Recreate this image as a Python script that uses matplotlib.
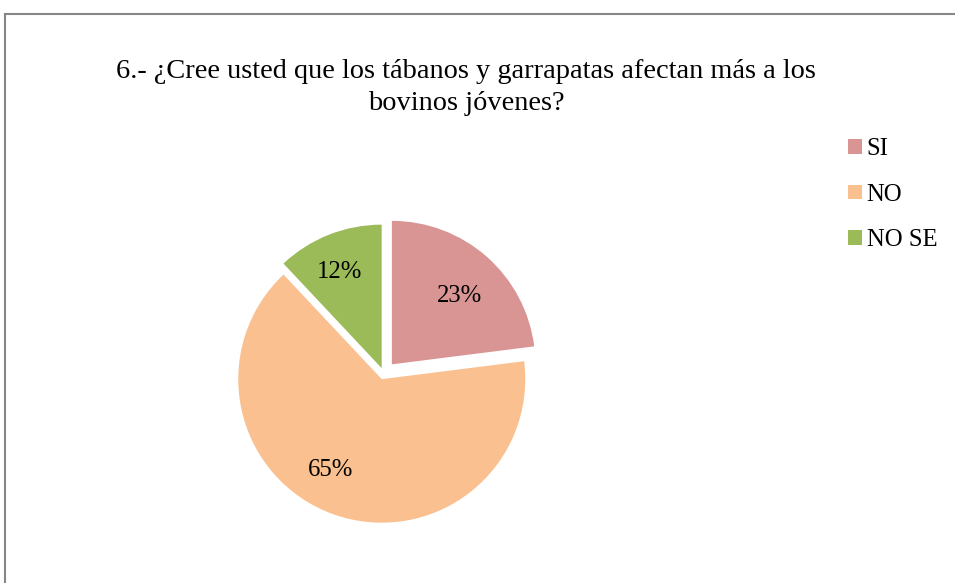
import matplotlib
matplotlib.use("Agg")
import numpy as np
import matplotlib.pyplot as plt
from matplotlib.patches import Rectangle

categories = ["SI", "NO", "NO SE"]
values = [23, 65, 12]
colors = ["#D99594", "#FAC090", "#9BBB59"]
explode = [0.085, 0.042, 0.04]
title = "6.- ¿Cree usted que los tábanos y garrapatas afectan más a los\nbovinos jóvenes?"

# label placement (angle in degrees, distance in radii) relative to each wedge centre
label_angles = [45.5, -119.4, 114.0]
label_dists = [0.67, 0.73, 0.73]

plt.rcParams["font.family"] = ["Liberation Serif", "DejaVu Serif"]
W, H = 955, 583
fig = plt.figure(figsize=(W / 100, H / 100), dpi=100)

# border
fig.patches.append(Rectangle((5 / W, -0.1), 1.2, 1.1 - 14 / H, transform=fig.transFigure,
                             fill=False, edgecolor="#868686", linewidth=1.5))

cx, cy, r = 383.8, H - 373.5, 143.5
half = 1.25 * r
ax = fig.add_axes([(cx - half) / W, (cy - half) / H, 2 * half / W, 2 * half / H])
wedges, texts, autotexts = ax.pie(values, colors=colors, explode=explode, startangle=90,
                                  counterclock=False, autopct="%1.0f%%", pctdistance=0.71,
                                  textprops=dict(fontsize=17.8, color="black"))
for w, t, a, d in zip(wedges, autotexts, label_angles, label_dists):
    x0, y0 = w.center
    t.set_position((x0 + d * np.cos(np.radians(a)), y0 + d * np.sin(np.radians(a))))
ax.set_xlim(-1.25, 1.25)
ax.set_ylim(-1.25, 1.25)
ax.set_aspect("equal")
ax.axis("off")

fig.text(466 / W, 1 - 87.5 / H, title, ha="center", va="center", fontsize=20.4,
         linespacing=1.33)

fig.legend(wedges, categories, loc="upper left", bbox_to_anchor=(826 / W, 1 - 116 / H),
           frameon=False, fontsize=17.8, handlelength=0.55, handleheight=0.55,
           handletextpad=0.2, labelspacing=0.95)

fig.savefig("out.png", dpi=100)
